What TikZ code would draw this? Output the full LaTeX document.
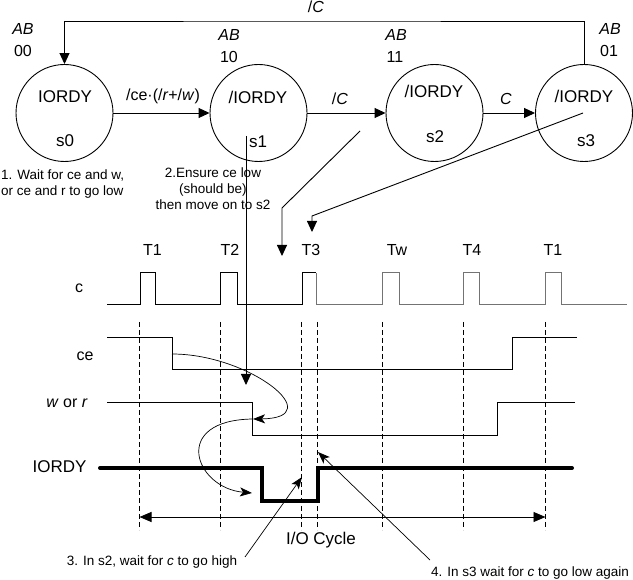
\documentclass[tikz,border=0pt]{standalone}
\usepackage{fontspec}
\setmainfont{Liberation Sans}
\usetikzlibrary{arrows.meta}
\begin{document}
\begin{tikzpicture}[x=1pt,y=-1pt,
  state/.style={circle,draw,minimum size=97pt,inner sep=0pt,line width=0.9pt},
  big/.style={inner sep=0pt,font=\fontsize{17}{20}\selectfont},
  lbl/.style={inner sep=0pt,font=\fontsize{16}{19}\selectfont},
  note/.style={inner sep=0pt,font=\fontsize{13.5}{16}\selectfont},
  arr/.style={-{Triangle[length=11pt,width=10pt]},line width=0.9pt},
  carr/.style={-{Stealth[length=12pt,width=9pt,inset=3pt]},line width=0.7pt},
  vdashed/.style={dash pattern=on 5pt off 3pt,line width=0.8pt},
  wave/.style={line width=1pt},
  wavegray/.style={line width=1pt,draw=black!55}
]
\useasboundingbox (0,0) rectangle (633,580);

% states
\node[state] (s0) at (64.5,113) {};
\node[state] (s1) at (258.5,113) {};
\node[state] (s2) at (434.5,113) {};
\node[state] (s3) at (584,113) {};

\node[big] (s0t) at (65,97) {IORDY};
\node[big] (s0n) at (65,141) {s0};
\node[big] (s1t) at (258,97) {/IORDY};
\node[big] (s1n) at (258,142) {s1};
\node[big] (s2t) at (434,91) {/IORDY};
\node[big] (s2n) at (435,137) {s2};
\node[big] (s3t) at (584,96) {/IORDY};
\node[big] (s3n) at (586,141) {s3};

% AB codes
\node[lbl] (ab0) at (23,29) {\textit{AB}};
\node[lbl] (c0) at (23,51) {00};
\node[lbl] (ab1) at (229,35) {\textit{AB}};
\node[lbl] (c1) at (229,57) {10};
\node[lbl] (ab2) at (396,35) {\textit{AB}};
\node[lbl] (c2) at (395,57) {11};
\node[lbl] (ab3) at (610,29) {\textit{AB}};
\node[lbl] (c3) at (609,51) {01};

% transitions
\draw[arr] (s0.east) -- (s1.west);
\draw[arr] (s1.east) -- (s2.west);
\draw[arr] (s2.east) -- (s3.west);
\coordinate (top) at (300,21);
\draw[arr] (s3.north) |- (top) -| (s0.north);
\node[lbl] (e01) at (163,96) {/ce·(/\textit{r}+/\textit{w})};
\node[lbl] (e12) at (340,99) {/\textit{C}};
\node[lbl] (e23) at (506,99) {\textit{C}};
\node[lbl] (e30) at (316,7) {/\textit{C}};

% notes
\node[note,anchor=west,align=left] (n1) at (1,184) {1. Wait for ce and w,\\or ce and r to go low};
\node[note,align=center] (n2) at (213,189) {2.Ensure ce low\\(should be)\\then move on to s2};

\coordinate (p1a) at (246,136);
\coordinate (p1b) at (246,385);
\draw[arr] (p1a) -- (p1b);
\coordinate (p2a) at (360,131);
\coordinate (p2b) at (282,208);
\coordinate (p2c) at (282,256);
\draw[arr] (p2a) -- (p2b) -- (p2c);
\coordinate (p3a) at (583,113);
\coordinate (p3b) at (312,216);
\coordinate (p3c) at (312,232);
\draw[arr] (p3a) -- (p3b) -- (p3c);

% timing labels
\node[lbl] (T1a) at (152.5,250) {T1};
\node[lbl] (T2) at (230,250) {T2};
\node[lbl] (T3) at (311,250) {T3};
\node[lbl] (Tw) at (397,250) {Tw};
\node[lbl] (T4) at (472,250) {T4};
\node[lbl] (T1b) at (553,250) {T1};

\node[lbl] (lc) at (79,288) {c};
\node[lbl] (lce) at (85,356) {ce};
\node[lbl] (lwr) at (67,403) {\textit{w} or \textit{r}};
\node[big] (liordy) at (59.5,467) {IORDY};

% clock
\draw[wave] (107,305) -- (140,305) -- (140,273) -- (155,273) -- (155,305) -- (220,305) -- (220,273) -- (237,273) -- (237,305) -- (302,305) -- (302,273) -- (316,273);
\draw[wavegray] (316,273) -- (316,305) -- (382,305) -- (382,273) -- (399,273) -- (399,305) -- (463,305) -- (463,273) -- (479,273) -- (479,305) -- (545,305) -- (545,273) -- (561,273) -- (561,305) -- (627,305);

% dashed guides
\foreach \x in {139.5,220.5,301.5,317,382.5,463.5,545.5}
  \draw[vdashed] (\x,322) -- (\x,530);

% ce
\draw[wave] (107,338) -- (172,338) -- (172,370) -- (512,370) -- (512,338) -- (577,338);
% w or r
\draw[wave] (107,403) -- (252,403) -- (252,436) -- (497,436) -- (497,403) -- (575,403);
% IORDY
\draw[line width=4pt,line cap=round,line join=miter] (100,468) -- (262,468) -- (262,501) -- (318,501) -- (318,468) -- (572,468);

% curved arrows
\coordinate (k1a) at (172,354);
\coordinate (k1b) at (253,419);
\coordinate (k2b) at (252,493);
\draw[carr] (k1a) .. controls (250,354) and (330,418) .. (k1b);
\draw[carr] (k1b) .. controls (170,420) and (195,488) .. (k2b);

% I/O cycle
\coordinate (io1) at (139.5,517);
\coordinate (io2) at (545.5,517);
\draw[{Triangle[length=12pt,width=10pt]}-{Triangle[length=12pt,width=10pt]},line width=0.9pt] (io1) -- (io2);
\node[big] (io) at (321,540) {I/O Cycle};

% notes 3 and 4
\node[note] (n3) at (152,562) {3. In s2, wait for \textit{c} to go high};
\node[note] (n4) at (530,573) {4. In s3 wait for \textit{c} to go low again};
\coordinate (a3a) at (245,557);
\coordinate (a3b) at (302,477);
\coordinate (a4a) at (430,560);
\coordinate (a4b) at (318,452);
\draw[carr] (a3a) -- (a3b);
\draw[carr] (a4a) -- (a4b);
\end{tikzpicture}
\end{document}
